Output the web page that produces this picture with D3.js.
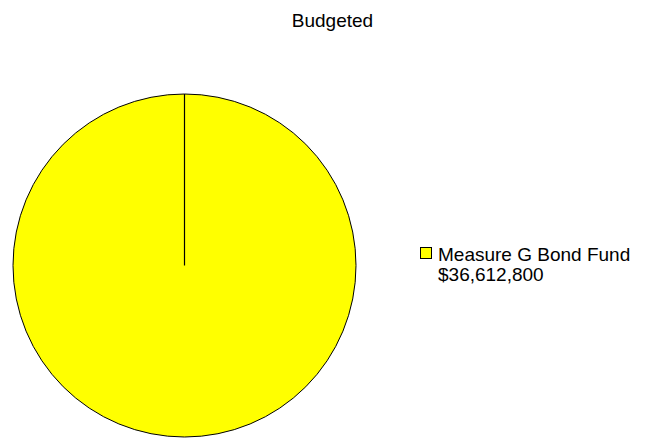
<!DOCTYPE html>
<html>
<head>
<meta charset="utf-8">
<script src="https://cdn.jsdelivr.net/npm/d3@7"></script>
<style>
  body { margin: 0; background: #fff; }
  text { font-family: "Liberation Sans", Arial, sans-serif; fill: #000; }
</style>
</head>
<body>
<div id="chart"></div>
<script>
// chart data
const title = "Budgeted";
const funds = ["Measure G Bond Fund"];
const amounts = [36612800];
const colors = ["#ffff00"];

const width = 645, height = 438;
const cx = 184.5, cy = 265.5, radius = 171.5;

const svg = d3.select("#chart")
  .append("svg")
  .attr("width", width)
  .attr("height", height);

svg.append("text")
  .attr("x", 332.5)
  .attr("y", 27)
  .attr("text-anchor", "middle")
  .style("font-size", "19px")
  .text(title);

const pie = d3.pie().sort(null).value(d => d)(amounts);
const arc = d3.arc().innerRadius(0).outerRadius(radius);

const g = svg.append("g")
  .attr("transform", `translate(${cx},${cy})`);

g.selectAll("path.slice")
  .data(pie)
  .enter()
  .append("path")
  .attr("class", "slice")
  .attr("d", arc)
  .attr("fill", (d, i) => colors[i])
  .attr("stroke", "#000")
  .attr("stroke-width", 1);

// radial edge of each slice (a full circle leaves no edge, so draw it)
g.selectAll("line.edge")
  .data(pie)
  .enter()
  .append("line")
  .attr("class", "edge")
  .attr("x1", 0).attr("y1", 0)
  .attr("x2", d => d3.pointRadial(d.startAngle, radius)[0])
  .attr("y2", d => d3.pointRadial(d.startAngle, radius)[1])
  .attr("stroke", "#000")
  .attr("stroke-width", 1.2);

// legend
const fmt = d3.format("$,");
const leg = svg.append("g").attr("transform", "translate(420,247)");
const item = leg.selectAll("g.item")
  .data(funds)
  .enter()
  .append("g")
  .attr("class", "item")
  .attr("transform", (d, i) => `translate(0,${i * 40})`);

item.append("rect")
  .attr("x", 0.5).attr("y", 0.5)
  .attr("width", 11).attr("height", 11)
  .attr("fill", (d, i) => colors[i])
  .attr("stroke", "#000");

item.append("text")
  .attr("x", 18)
  .attr("y", 13.5)
  .style("font-size", "19px")
  .text(d => d);

item.append("text")
  .attr("x", 18)
  .attr("y", 33.5)
  .style("font-size", "19px")
  .text((d, i) => fmt(amounts[i]));
</script>
</body>
</html>
